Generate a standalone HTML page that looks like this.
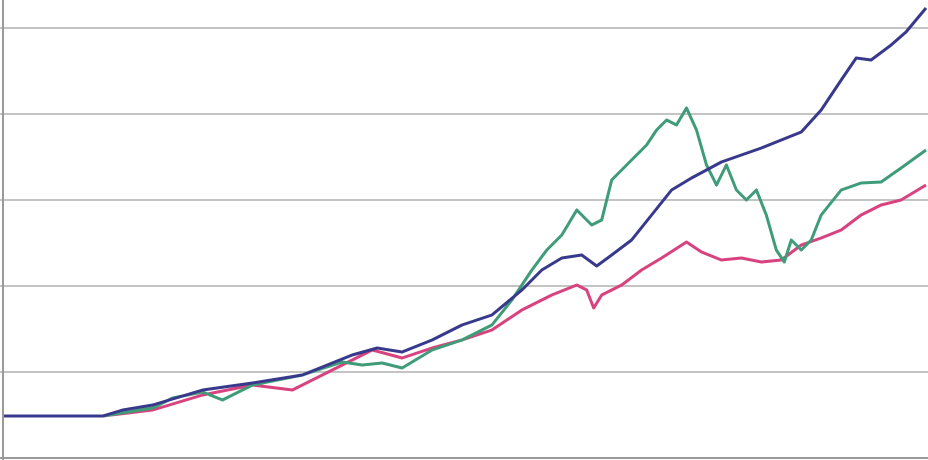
<!DOCTYPE html>
<html><head><meta charset="utf-8">
<style>html,body{margin:0;padding:0;background:#fff;overflow:hidden}svg{display:block}</style>
</head><body>
<svg id="chart" width="928" height="460" viewBox="0 0 928 460" xmlns="http://www.w3.org/2000/svg">
<g id="grid"></g>
<g id="series"></g>
<line x1="3" y1="0" x2="3" y2="460" stroke="#9a9a9a" stroke-width="2"/>
<line x1="0" y1="458" x2="928" y2="458" stroke="#9a9a9a" stroke-width="2"/>
</svg>
<script>
const gridTicks = [0, 86, 172, 258, 344, 430];
const blueT = [0,100,120,150,200,250,300,350,375,400,430,460,490,520,540,560,580,595,610,630,650,670,690,705,720,740,760,780,800,820,840,855,870,890,905,925];
const blueV = [42,42,48,53,68,75,83,103,110,106,118,133,143,168,188,200,203,192,203,218,243,268,280,288,296,303,310,318,326,348,378,400,398,413,426,450];
const greenT = [0,100,150,170,200,220,250,300,340,360,380,400,430,460,490,510,530,545,560,575,590,600,610,630,645,655,665,675,685,695,705,715,725,735,745,755,765,775,783,790,800,810,820,840,860,880,900,925];
const greenV = [42,42,50,60,66,58,73,83,96,93,95,90,108,118,133,158,188,208,223,248,233,238,278,298,313,328,338,333,350,328,293,273,293,268,258,268,243,208,196,218,208,218,243,268,275,276,290,308];
const pinkT = [0,100,150,200,250,290,330,370,400,430,460,490,520,550,575,585,592,600,620,640,660,685,700,720,740,760,780,800,820,840,860,880,900,925];
const pinkV = [42,42,48,63,73,68,88,108,100,110,118,128,148,163,173,168,150,163,173,188,200,216,206,198,200,196,198,213,220,228,243,253,258,273];

const W = 928, H = 460;
const xMin = 0, xMax = 925, yMin = 0, yMax = 430;
const xs = t => 3 + (t - xMin) / (xMax - xMin) * (W - 5);
const ys = v => 458 - (v - yMin) / (yMax - yMin) * 430;
const NS = 'http://www.w3.org/2000/svg';

const grid = document.getElementById('grid');
gridTicks.forEach((g, i) => {
  if (g === 0) return;
  const l = document.createElementNS(NS, 'line');
  
  
  l.setAttribute('x1', 0); l.setAttribute('x2', W);
  l.setAttribute('y1', ys(g)); l.setAttribute('y2', ys(g));
  l.setAttribute('stroke', '#c4c4c4'); l.setAttribute('stroke-width', '2');
  grid.appendChild(l);
});

const sg = document.getElementById('series');
function draw(T, V, color, name) {
  const p = document.createElementNS(NS, 'path');
  
  
  p.setAttribute('d', T.map((t, i) => (i ? 'L' : 'M') + xs(t).toFixed(1) + ',' + ys(V[i]).toFixed(1)).join(''));
  p.setAttribute('fill', 'none');
  p.setAttribute('stroke', color);
  p.setAttribute('stroke-width', '3');
  p.setAttribute('stroke-linejoin', 'round');
  sg.appendChild(p);
}
draw(pinkT, pinkV, '#d8437f', 'pink-series-line');
draw(greenT, greenV, '#3f9c78', 'green-series-line');
draw(blueT, blueV, '#38398c', 'blue-series-line');
</script>
</body></html>
